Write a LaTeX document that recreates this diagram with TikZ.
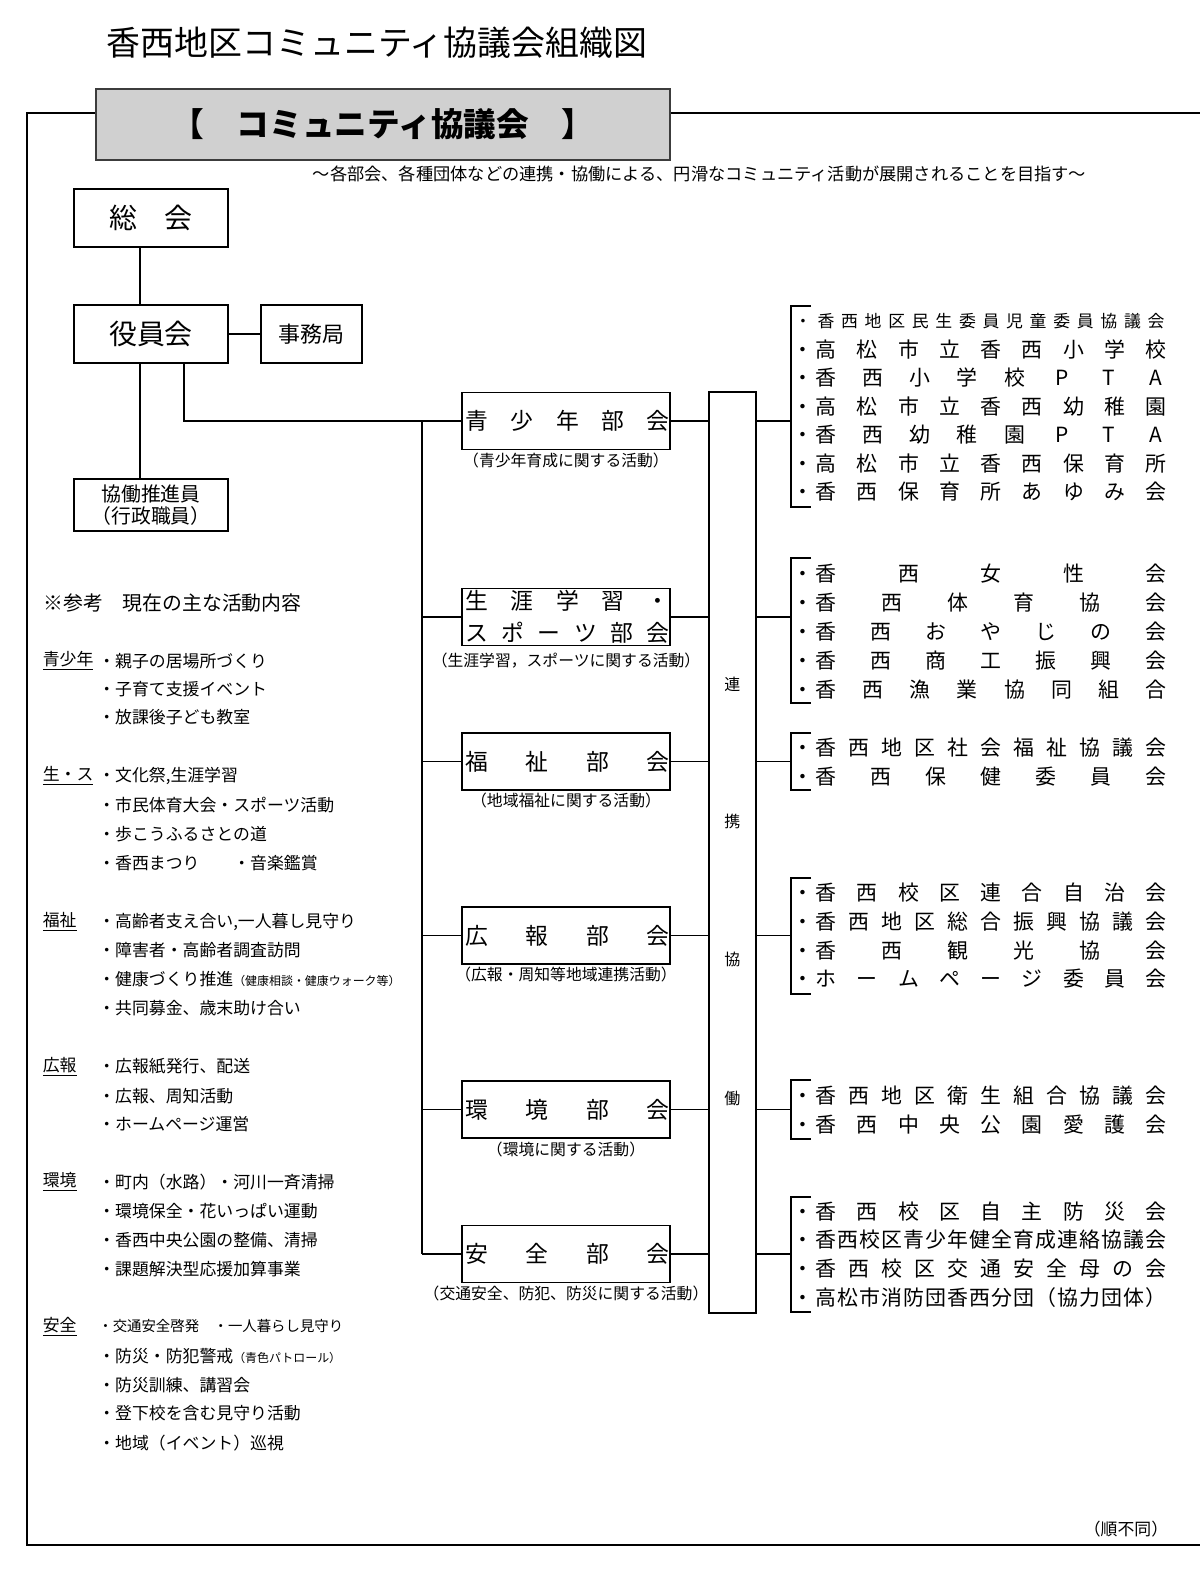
\documentclass[tikz,border=0pt]{standalone}
\usepackage{fontspec}
\setmainfont{Noto Sans CJK JP}
\usetikzlibrary{positioning}
\definecolor{headgray}{RGB}{208,208,208}
\definecolor{headline}{RGB}{60,60,60}

\newcommand{\fpt}[1]{\fontsize{#1}{#1}\selectfont}
% spread single characters evenly between two x positions
\newcommand{\spreadrow}[6][rowch]{%
  \foreach \onech [count=\k] in {#6}{\xdef\spreadn{\k}}%
  \foreach \onech [count=\k from 0] in {#6}{%
    \node[#1] (#2-\k) at ({#4+(#5-#4)*\k/(\spreadn-1)},#3) {\onech};}%
}
% member row on the right: bullet + spread name
\newcommand{\memberrow}[4][rowch]{%
  \node[#1] (#2-b) at (803,#3) {・};
  \spreadrow[#1]{#2}{#3}{826}{1156}{#4}}

\begin{document}
\begin{tikzpicture}[x=0.02cm, y=-0.02cm,
    frame/.style={line width=1.1pt},
    conn/.style={line width=0.75pt},
    box/.style={draw, line width=0.85pt, inner sep=0pt, align=center},
    bukai/.style={box, minimum width=4.16cm, minimum height=1.14cm},
    bkch/.style={font=\fpt{13pt}, inner sep=0pt, text height=10.8pt, text depth=0.9pt},
    caption/.style={font=\fpt{9pt}, inner sep=0pt},
    rowch/.style={font=\fpt{11.9pt}, inner sep=0pt, text height=9.9pt, text depth=0.8pt},
    rowsm/.style={font=\fpt{9.6pt}, inner sep=0pt, text height=8pt, text depth=0.7pt},
    vch/.style={font=\fpt{9.1pt}, inner sep=0pt, text height=7.6pt, text depth=0.6pt},
    cat/.style={anchor=west, inner sep=0pt, font=\fpt{9.6pt}},
    item/.style={anchor=west, inner sep=0pt, font=\fpt{9.6pt}}
]
    \useasboundingbox (0,0) rectangle (1200,1586);

    % Title and council header
    \node[font=\fpt{19.3pt}] (title) at (377,42.5) {香西地区コミュニティ協議会組織図};
    \coordinate (fTL) at (27,113);
    \coordinate (fBL) at (27,1545);
    \coordinate (fBR) at (1200,1545);
    \coordinate (fTR) at (1200,113);
    \draw[frame] (fTR) -- (fTL) -- (fBL) -- (fBR);
    \node[draw=headline, fill=headgray, line width=1pt, minimum width=11.48cm, minimum height=1.42cm, font=\fpt{18.6pt}\bfseries] (council) at (383,124.5) {【　コミュニティ協議会　】};
    \node[font=\fpt{9.8pt}] (motto) at (699.5,174) {～各部会、各種団体などの連携・協働による、円滑なコミュニティ活動が展開されることを目指す～};

    % Left boxes
    \node[box, minimum width=3.08cm, minimum height=1.16cm, font=\fpt{15.9pt}] (sokai) at (151,218) {総　会};
    \node[box, minimum width=3.08cm, minimum height=1.16cm, font=\fpt{15.9pt}] (yakuin) at (151,334) {役員会};
    \node[box, minimum width=2.02cm, minimum height=1.16cm, font=\fpt{12.5pt}] (jimukyoku) at (311.5,334) {事務局};
    \node[box, minimum width=3.08cm, minimum height=1.04cm, font=\fontsize{11.3pt}{12.5pt}\selectfont] (suishin) at (151,505) {協働推進員\\（行政職員）};

    \draw[conn] ([xshift=-0.22cm]sokai.south) -- ([xshift=-0.22cm]yakuin.north);
    \draw[conn] (yakuin.east) -- (jimukyoku.west);
    \draw[conn] ([xshift=-0.22cm]yakuin.south) -- ([xshift=-0.22cm]suishin.north);

    % Sub-committees
    \node[bukai] (bk1) at (566,421) {};
    \node[bukai] (bk2) at (566,617) {};
    \node[bukai] (bk3) at (566,761.5) {};
    \node[bukai] (bk4) at (566,935.5) {};
    \node[bukai] (bk5) at (566,1109.5) {};
    \node[bukai] (bk6) at (566,1254) {};
    \spreadrow[bkch]{bk1t}{421}{477}{658}{青,少,年,部,会}
    \spreadrow[bkch]{bk2a}{601}{477}{658}{生,涯,学,習,・}
    \spreadrow[bkch]{bk2b}{633}{477}{658}{ス,ポ,ー,ツ,部,会}
    \spreadrow[bkch]{bk3t}{761.5}{477}{658}{福,祉,部,会}
    \spreadrow[bkch]{bk4t}{935.5}{477}{658}{広,報,部,会}
    \spreadrow[bkch]{bk5t}{1109.5}{477}{658}{環,境,部,会}
    \spreadrow[bkch]{bk6t}{1254}{477}{658}{安,全,部,会}
    \node[caption, below=0.2cm of bk1.south, anchor=center] (cap1) {（青少年育成に関する活動）};
    \node[caption, below=0.28cm of bk2.south, anchor=center] (cap2) {（生涯学習，スポーツに関する活動）};
    \node[caption, below=0.2cm of bk3.south, anchor=center] (cap3) {（地域福祉に関する活動）};
    \node[caption, below=0.2cm of bk4.south, anchor=center] (cap4) {（広報・周知等地域連携活動）};
    \node[caption, below=0.22cm of bk5.south, anchor=center] (cap5) {（環境に関する活動）};
    \node[caption, below=0.2cm of bk6.south, anchor=center] (cap6) {（交通安全、防犯、防災に関する活動）};

    \coordinate (trunk) at (422,421);
    \draw[conn] ([xshift=0.66cm]yakuin.south) |- (bk1.west);
    \draw[conn] (trunk) -- (trunk |- bk6.west);
    \foreach \b in {bk2,bk3,bk4,bk5,bk6}
        \draw[conn] (trunk |- \b.west) -- (\b.west);

    % Cooperation column
    \node[box, minimum width=0.94cm, minimum height=18.42cm] (renkei) at (732.4,852.5) {};
    \foreach \c/\yy [count=\i] in {連/684,携/821.6,協/959,働/1098}
        \node[vch] (rk-\i) at (732.4,\yy) {\c};
    \coordinate (brx) at (791,0);
    \foreach \b in {bk1,bk2,bk3,bk4,bk5,bk6}{
        \draw[conn] (\b.east) -- (\b.east -| renkei.west);
        \draw[conn] (renkei.east |- \b.east) -- (brx |- \b.east);
    }
    \foreach \t/\bt in {306/507,558/703,733/790,878/994,1080/1139,1197/1312}
        \draw[conn] (811,\t) -- (791,\t) -- (791,\bt) -- (811,\bt);

    % Member organisations
    \memberrow[rowsm]{g1r1}{321}{香,西,地,区,民,生,委,員,児,童,委,員,協,議,会}
    \memberrow{g1r2}{349.4}{高,松,市,立,香,西,小,学,校}
    \memberrow{g1r3}{377.8}{香,西,小,学,校,P,T,A}
    \memberrow{g1r4}{406.2}{高,松,市,立,香,西,幼,稚,園}
    \memberrow{g1r5}{434.6}{香,西,幼,稚,園,P,T,A}
    \memberrow{g1r6}{463}{高,松,市,立,香,西,保,育,所}
    \memberrow{g1r7}{491.4}{香,西,保,育,所,あ,ゆ,み,会}

    \memberrow{g2r1}{573}{香,西,女,性,会}
    \memberrow{g2r2}{602}{香,西,体,育,協,会}
    \memberrow{g2r3}{631}{香,西,お,や,じ,の,会}
    \memberrow{g2r4}{660}{香,西,商,工,振,興,会}
    \memberrow{g2r5}{689}{香,西,漁,業,協,同,組,合}

    \memberrow{g3r1}{747}{香,西,地,区,社,会,福,祉,協,議,会}
    \memberrow{g3r2}{776}{香,西,保,健,委,員,会}

    \memberrow{g4r1}{892.5}{香,西,校,区,連,合,自,治,会}
    \memberrow{g4r2}{921}{香,西,地,区,総,合,振,興,協,議,会}
    \memberrow{g4r3}{950}{香,西,観,光,協,会}
    \memberrow{g4r4}{978.5}{ホ,ー,ム,ペ,ー,ジ,委,員,会}

    \memberrow{g5r1}{1095.5}{香,西,地,区,衛,生,組,合,協,議,会}
    \memberrow{g5r2}{1124}{香,西,中,央,公,園,愛,護,会}

    \memberrow{g6r1}{1211}{香,西,校,区,自,主,防,災,会}
    \memberrow{g6r2}{1239.5}{香,西,校,区,青,少,年,健,全,育,成,連,絡,協,議,会}
    \memberrow{g6r3}{1268}{香,西,校,区,交,通,安,全,母,の,会}
    \memberrow{g6r4}{1297}{高,松,市,消,防,団,香,西,分,団,（,協,力,団,体,）}

    % Reference list of activities
    \node[anchor=west, inner sep=0pt, font=\fpt{11.3pt}] (refhead) at (43,603) {※参考　現在の主な活動内容};
    \foreach \yy/\txt [count=\i] in {660.8/青少年,776/生・ス,922/福祉,1066.4/広報,1182/環境,1326.5/安全}
        \node[cat] (cat-\i) at (42.5,\yy) {\underline{\txt}};

    \foreach \yy/\txt [count=\i] in {660.8/親子の居場所づくり,689/子育て支援イベント,717.5/放課後子ども教室}
        \node[item] (sho-\i) at (98,\yy) {・\txt};
    \foreach \yy/\txt [count=\i] in {776/{文化祭,生涯学習},805.4/市民体育大会・スポーツ活動,834/歩こうふるさとの道,863/香西まつり　　・音楽鑑賞}
        \node[item] (sps-\i) at (98,\yy) {・\txt};
    \foreach \yy/\txt [count=\i] in {922/{高齢者支え合い,一人暮し見守り},950/障害者・高齢者調査訪問,979.4/{健康づくり推進{\fpt{6.8pt}（健康相談・健康ウォーク等）}},1008/共同募金、歳末助け合い}
        \node[item] (fks-\i) at (98,\yy) {・\txt};
    \foreach \yy/\txt [count=\i] in {1066.4/広報紙発行、配送,1096/広報、周知活動,1124/ホームページ運営}
        \node[item] (kho-\i) at (98,\yy) {・\txt};
    \foreach \yy/\txt [count=\i] in {1182/町内（水路）・河川一斉清掃,1211/環境保全・花いっぱい運動,1240.5/香西中央公園の整備、清掃,1269/課題解決型応援加算事業}
        \node[item] (kky-\i) at (98,\yy) {・\txt};
    \node[item, font=\fpt{8.2pt}] (anz-1) at (98,1326.5) {・交通安全啓発　・一人暮らし見守り};
    \foreach \yy/\txt [count=\i from 2] in {1356/{防災・防犯警戒{\fpt{6.8pt}（青色パトロール）}},1385/防災訓練、講習会,1413.5/登下校を含む見守り活動,1443/地域（イベント）巡視}
        \node[item] (anz-\i) at (98,\yy) {・\txt};

    \node[font=\fpt{9.6pt}] (note) at (1126,1529) {（順不同）};
\end{tikzpicture}
\end{document}
